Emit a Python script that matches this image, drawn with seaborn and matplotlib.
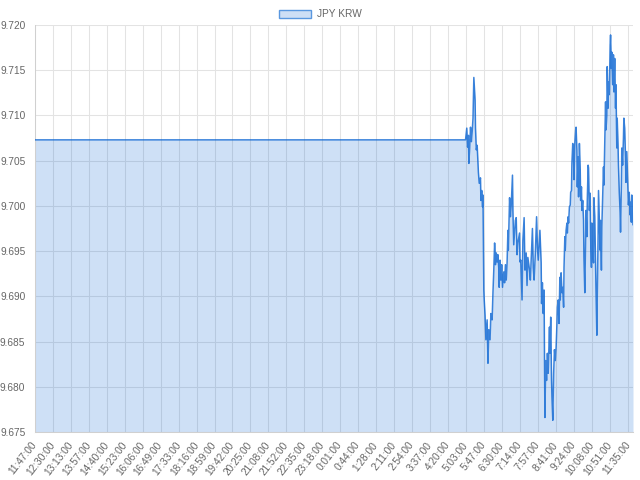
import numpy as np
import pandas as pd
import matplotlib
matplotlib.use("Agg")
import matplotlib.pyplot as plt
import seaborn as sns
from matplotlib.patches import Patch

# ---------------- data ----------------
series_name = "JPY KRW"
start_time = "11:47"

tick_labels = ["11:47:00", "12:30:00", "13:13:00", "13:57:00", "14:40:00", "15:23:00",
               "16:06:00", "16:49:00", "17:33:00", "18:16:00", "18:59:00", "19:42:00",
               "20:25:00", "21:08:00", "21:52:00", "22:35:00", "23:18:00", "0:01:00",
               "0:44:00", "1:28:00", "2:11:00", "2:54:00", "3:37:00", "4:20:00",
               "5:03:00", "5:47:00", "6:30:00", "7:14:00", "7:57:00", "8:41:00",
               "9:24:00", "10:08:00", "10:51:00", "11:35:00"]

y_ticks = [9.675, 9.680, 9.685, 9.690, 9.695, 9.700, 9.705, 9.710, 9.715, 9.720]
total_minutes = 1439

# minutes after 11:47
minutes = [0, 1036, 1039, 1041, 1043, 1044, 1046, 1048, 1050, 1052, 1054, 1056, 1059, 1060,
           1062, 1064, 1067, 1069, 1072, 1073, 1075, 1077, 1078, 1080, 1081, 1083, 1085,
           1088, 1090, 1092, 1095, 1097, 1100, 1102, 1104, 1106, 1108, 1110, 1112, 1114,
           1116, 1117, 1119, 1121, 1123, 1125, 1128, 1130, 1132, 1134, 1136, 1138, 1139,
           1142, 1144, 1146, 1149, 1150, 1152, 1154, 1156, 1158, 1160, 1162, 1166, 1167,
           1169, 1172, 1174, 1177, 1179, 1182, 1184, 1186, 1190, 1192, 1195, 1197, 1199,
           1201, 1204, 1207, 1209, 1211, 1214, 1215, 1218, 1219, 1221, 1223, 1225, 1227,
           1229, 1231, 1233, 1235, 1238, 1239, 1241, 1243, 1244, 1246, 1248, 1250, 1252,
           1254, 1256, 1257, 1259, 1261, 1263, 1264, 1266, 1268, 1270, 1272, 1273, 1275,
           1276, 1278, 1280, 1281, 1283, 1284, 1286, 1288, 1289, 1291, 1292, 1294, 1296,
           1297, 1299, 1301, 1302, 1304, 1305, 1307, 1308, 1310, 1312, 1313, 1315, 1316,
           1318, 1320, 1321, 1323, 1325, 1326, 1328, 1329, 1331, 1332, 1334, 1336, 1337,
           1339, 1340, 1342, 1344, 1345, 1347, 1349, 1350, 1352, 1353, 1355, 1356, 1358,
           1360, 1361, 1363, 1364, 1366, 1368, 1369, 1371, 1373, 1374, 1376, 1377, 1379,
           1380, 1382, 1384, 1385, 1387, 1388, 1390, 1392, 1393, 1395, 1397, 1398, 1400,
           1401, 1403, 1404, 1406, 1408, 1409, 1411, 1412, 1414, 1416, 1417, 1419, 1421,
           1422, 1424, 1425, 1427, 1428, 1430, 1432, 1433, 1435, 1436, 1438, 1439]

rates = [9.7073, 9.7073, 9.7086, 9.7065, 9.7078, 9.7047, 9.7064, 9.7087, 9.7071, 9.7082,
         9.7097, 9.7142, 9.7117, 9.7086, 9.7062, 9.7067, 9.7037, 9.7025, 9.7031, 9.7006,
         9.7017, 9.6999, 9.7012, 9.6907, 9.6896, 9.6879, 9.6852, 9.6874, 9.6826, 9.6863,
         9.6852, 9.6881, 9.6874, 9.6904, 9.6929, 9.6959, 9.6935, 9.6948, 9.6938, 9.6946,
         9.6931, 9.6910, 9.6940, 9.6918, 9.6935, 9.6910, 9.6927, 9.6915, 9.6935, 9.6918,
         9.6937, 9.6973, 9.6951, 9.7009, 9.6988, 9.7001, 9.7034, 9.6995, 9.6957, 9.6971,
         9.6984, 9.6987, 9.6946, 9.6959, 9.6970, 9.6938, 9.6940, 9.6896, 9.6962, 9.6987,
         9.6929, 9.6948, 9.6912, 9.6943, 9.6929, 9.6918, 9.6951, 9.6975, 9.6932, 9.6918,
         9.6948, 9.6988, 9.6954, 9.6940, 9.6966, 9.6973, 9.6937, 9.6892, 9.6915, 9.6881,
         9.6907, 9.6766, 9.6829, 9.6807, 9.6837, 9.6815, 9.6866, 9.6837, 9.6877, 9.6807,
         9.6789, 9.6763, 9.6815, 9.6841, 9.6829, 9.6844, 9.6870, 9.6888, 9.6896, 9.6870,
         9.6921, 9.6896, 9.6926, 9.6904, 9.6910, 9.6888, 9.6932, 9.6966, 9.6951, 9.6973,
         9.6981, 9.6970, 9.6988, 9.6981, 9.6999, 9.7001, 9.7015, 9.7017, 9.7047, 9.7069,
         9.7054, 9.7029, 9.7069, 9.7084, 9.7087, 9.7062, 9.7021, 9.7054, 9.7010, 9.7069,
         9.7040, 9.7006, 9.7021, 9.6995, 9.7006, 9.6984, 9.6943, 9.6904, 9.6966, 9.6995,
         9.6966, 9.7006, 9.7045, 9.7042, 9.6995, 9.7014, 9.6966, 9.6932, 9.6981, 9.6951,
         9.6937, 9.7009, 9.6988, 9.6932, 9.6907, 9.6857, 9.6899, 9.6966, 9.7017, 9.6984,
         9.6951, 9.6984, 9.6929, 9.6977, 9.7010, 9.7043, 9.7023, 9.7069, 9.7115, 9.7084,
         9.7100, 9.7154, 9.7108, 9.7137, 9.7123, 9.7178, 9.7189, 9.7152, 9.7170, 9.7134,
         9.7167, 9.7126, 9.7163, 9.7108, 9.7134, 9.7064, 9.7097, 9.7067, 9.7045, 9.7015,
         9.6993, 9.6971, 9.7023, 9.7064, 9.7045, 9.7075, 9.7097, 9.7086, 9.7053, 9.7026,
         9.7060, 9.7045, 9.7012, 9.7001, 9.7015, 9.6990, 9.7004, 9.6982, 9.7012, 9.6993,
         9.6979]

# ---------------- style ----------------
line_color = "#0a64d2"
grid_color = "#e3e3e3"
text_color = "#666666"
fs = 7.3  # ~10 px

sns.set_theme(style="white")
plt.rcParams["font.family"] = ["Liberation Sans", "DejaVu Sans"]

df = pd.DataFrame({"minute": minutes, "rate": rates})

fig = plt.figure(figsize=(6.4, 4.8), dpi=100)
ax = fig.add_axes([35 / 640, 48 / 480, 598 / 640, 407 / 480])

ax.fill_between(df["minute"], df["rate"], min(y_ticks), color=line_color, alpha=0.2,
                lw=0, zorder=1)
sns.lineplot(data=df, x="minute", y="rate", ax=ax, color=line_color, lw=1.1,
             alpha=0.8, estimator=None, legend=False, zorder=3)

def to_offset(lbl):
    h, m = lbl.split(":")[:2]
    sh, sm = start_time.split(":")
    return (int(h) * 60 + int(m) - (int(sh) * 60 + int(sm))) % 1440

tick_pos = [to_offset(l) for l in tick_labels]

ax.set_xlim(0, total_minutes)
ax.set_ylim(min(y_ticks), max(y_ticks))
ax.set_xticks(tick_pos)
ax.set_xticklabels(tick_labels, rotation=52, ha="right", va="center",
                   rotation_mode="anchor")
ax.set_yticks(y_ticks)
ax.set_yticklabels([f"{v:.3f}" for v in y_ticks])
ax.set_xlabel("")
ax.set_ylabel("")

ax.grid(True, color=grid_color, lw=0.75, zorder=0)
ax.set_axisbelow(True)
ax.tick_params(axis="both", length=5.0, width=0.75, color=grid_color,
               labelcolor=text_color, labelsize=fs, pad=2.0)
ax.tick_params(axis="x", pad=3)
for s in ["top", "right"]:
    ax.spines[s].set_visible(False)
for s in ["left", "bottom"]:
    ax.spines[s].set_color("#d0d0d0")
    ax.spines[s].set_linewidth(0.75)

handle = Patch(facecolor=(0.04, 0.39, 0.82, 0.2), edgecolor="#5a98e0", lw=1.0)
fig.legend(handles=[handle], labels=[series_name], loc="upper center",
           bbox_to_anchor=(0.5, 1.0), frameon=False, fontsize=fs,
           handlelength=3.2, handleheight=0.85, handletextpad=0.55,
           labelcolor=text_color, borderpad=0.4)

fig.savefig("out.png", dpi=100)
